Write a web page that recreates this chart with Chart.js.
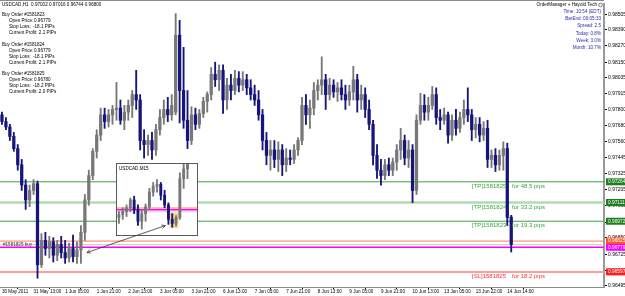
<!DOCTYPE html>
<html>
<head>
<meta charset="utf-8">
<script src="https://cdn.jsdelivr.net/npm/chart.js@4.4.0/dist/chart.umd.min.js"></script>
<style>
  html, body { margin: 0; padding: 0; background: #fff; }
  #wrap { position: relative; width: 625px; height: 296px; overflow: hidden; }
  #main { position: absolute; left: 0; top: 0; }
  #inset { position: absolute; left: 116px; top: 163px; width: 80px; height: 71px; border: 1px solid #5a5a5a; background: #fff; }
  #over { position: absolute; left: 0; top: 0; pointer-events: none; }
</style>
</head>
<body>
<div id="wrap">
  <canvas id="main" width="625" height="296"></canvas>
  <div id="inset"><canvas id="mini" width="80" height="71"></canvas></div>
  <canvas id="over" width="625" height="296"></canvas>
</div>
<script>
// USDCAD H1 candles (2h steps)
const xTickLabels = ['30 May 2011', '31 May 13:00', '1 Jun 05:00', '1 Jun 21:00', '2 Jun 13:00', '3 Jun 05:00',
  '3 Jun 21:00', '6 Jun 13:00', '7 Jun 05:00', '7 Jun 21:00', '8 Jun 13:00', '9 Jun 05:00', '9 Jun 21:00',
  '10 Jun 13:00', '13 Jun 05:00', '13 Jun 22:00', '14 Jun 14:00'];

const opens = [0.9776, 0.9771, 0.9767, 0.9760, 0.9751, 0.9739, 0.9724, 0.9713, 0.9720, 0.9725,
  0.9665, 0.9683, 0.9677, 0.9682, 0.9672, 0.9680, 0.9674, 0.9670, 0.9677, 0.9671,
  0.9676, 0.9689, 0.9713, 0.9731, 0.9749, 0.9761, 0.9776, 0.9771, 0.9776, 0.9780,
  0.9781, 0.9772, 0.9778, 0.9783, 0.9791, 0.9787, 0.9757, 0.9754, 0.9757, 0.9750,
  0.9765, 0.9774, 0.9780, 0.9776, 0.9778, 0.9835, 0.9794, 0.9772, 0.9757, 0.9776,
  0.9769, 0.9777, 0.9786, 0.9791, 0.9806, 0.9802, 0.9809, 0.9787, 0.9798, 0.9794,
  0.9803, 0.9798, 0.9802, 0.9796, 0.9791, 0.9787, 0.9776, 0.9757, 0.9746, 0.9750,
  0.9743, 0.9750, 0.9739, 0.9744, 0.9743, 0.9750, 0.9757, 0.9783, 0.9776, 0.9781,
  0.9794, 0.9798, 0.9802, 0.9791, 0.9798, 0.9793, 0.9796, 0.9791, 0.9787, 0.9793,
  0.9802, 0.9787, 0.9791, 0.9780, 0.9769, 0.9746, 0.9735, 0.9731, 0.9739, 0.9735,
  0.9741, 0.9750, 0.9757, 0.9744, 0.9750, 0.9720, 0.9772, 0.9783, 0.9778, 0.9783,
  0.9791, 0.9774, 0.9772, 0.9776, 0.9761, 0.9772, 0.9766, 0.9774, 0.9780, 0.9776,
  0.9765, 0.9769, 0.9761, 0.9766, 0.9743, 0.9746, 0.9739, 0.9746, 0.9751, 0.97002];

const highs = [0.9778, 0.9774, 0.9769, 0.9763, 0.9754, 0.9743, 0.9728, 0.9724, 0.9728, 0.9727,
  0.9688, 0.9689, 0.9686, 0.9685, 0.9683, 0.9686, 0.9683, 0.9681, 0.9687, 0.9682,
  0.9694, 0.9717, 0.9735, 0.9751, 0.9765, 0.9781, 0.9781, 0.9780, 0.9783, 0.9800,
  0.9787, 0.9783, 0.9787, 0.9794, 0.9809, 0.9791, 0.9765, 0.9761, 0.9763, 0.9769,
  0.9780, 0.9787, 0.9789, 0.9791, 0.9851, 0.9846, 0.9826, 0.9794, 0.9782, 0.9781,
  0.9780, 0.9789, 0.9793, 0.9811, 0.9815, 0.9813, 0.9813, 0.9803, 0.9806, 0.9809,
  0.9808, 0.9808, 0.9806, 0.9802, 0.9798, 0.9794, 0.9780, 0.9763, 0.9757, 0.9757,
  0.9756, 0.9754, 0.9751, 0.9750, 0.9754, 0.9759, 0.9789, 0.9791, 0.9787, 0.9800,
  0.9802, 0.9819, 0.9806, 0.9803, 0.9802, 0.9800, 0.9802, 0.9798, 0.9798, 0.9812,
  0.9806, 0.9798, 0.9796, 0.9787, 0.9772, 0.9754, 0.9743, 0.9743, 0.9744, 0.9744,
  0.9754, 0.9766, 0.9761, 0.9757, 0.9754, 0.9776, 0.9792, 0.9791, 0.9789, 0.9797,
  0.9796, 0.9780, 0.9781, 0.9778, 0.9776, 0.9780, 0.9778, 0.9787, 0.9796, 0.9780,
  0.9774, 0.9774, 0.9771, 0.9772, 0.9750, 0.9751, 0.9750, 0.9756, 0.9755, 0.97016];

const lows = [0.9769, 0.9765, 0.9757, 0.9749, 0.9735, 0.9720, 0.9706, 0.9708, 0.9717, 0.9655,
  0.9663, 0.9672, 0.9670, 0.9667, 0.9668, 0.9670, 0.9666, 0.9667, 0.9667, 0.9666,
  0.9666, 0.9683, 0.9709, 0.9728, 0.9744, 0.9757, 0.9766, 0.9767, 0.9769, 0.9772,
  0.9769, 0.9765, 0.9772, 0.9774, 0.9780, 0.9750, 0.9744, 0.9746, 0.9743, 0.9746,
  0.9761, 0.9769, 0.9771, 0.9772, 0.9776, 0.9770, 0.9766, 0.9751, 0.9754, 0.9765,
  0.9766, 0.9774, 0.9778, 0.9787, 0.9797, 0.9794, 0.9777, 0.9780, 0.9787, 0.9791,
  0.9793, 0.9794, 0.9791, 0.9787, 0.9783, 0.9772, 0.9750, 0.9739, 0.9735, 0.9737,
  0.9734, 0.9731, 0.9734, 0.9739, 0.9740, 0.9746, 0.9754, 0.9769, 0.9766, 0.9776,
  0.9787, 0.9791, 0.9780, 0.9787, 0.9789, 0.9786, 0.9787, 0.9780, 0.9783, 0.9787,
  0.9778, 0.9780, 0.9774, 0.9765, 0.9739, 0.9729, 0.9724, 0.9728, 0.9731, 0.9731,
  0.9735, 0.9743, 0.9739, 0.9737, 0.9711, 0.9717, 0.9769, 0.9772, 0.9772, 0.9780,
  0.9769, 0.9765, 0.9769, 0.9755, 0.9757, 0.9761, 0.9763, 0.9769, 0.9771, 0.9757,
  0.9759, 0.9756, 0.9757, 0.9737, 0.9737, 0.9734, 0.9735, 0.9735, 0.9694, 0.96744];

const closes = [0.9771, 0.9767, 0.9760, 0.9751, 0.9739, 0.9724, 0.9713, 0.9720, 0.9725, 0.9665,
  0.9683, 0.9677, 0.9682, 0.9672, 0.9680, 0.9674, 0.9670, 0.9677, 0.9671, 0.9676,
  0.9689, 0.9713, 0.9731, 0.9749, 0.9761, 0.9776, 0.9771, 0.9776, 0.9780, 0.9781,
  0.9772, 0.9778, 0.9783, 0.9791, 0.9787, 0.9757, 0.9754, 0.9757, 0.9750, 0.9765,
  0.9774, 0.9780, 0.9776, 0.9783, 0.9835, 0.9794, 0.9772, 0.9757, 0.9776, 0.9769,
  0.9777, 0.9786, 0.9791, 0.9806, 0.9802, 0.9809, 0.9787, 0.9798, 0.9794, 0.9803,
  0.9798, 0.9802, 0.9796, 0.9791, 0.9787, 0.9776, 0.9757, 0.9746, 0.9750, 0.9743,
  0.9750, 0.9739, 0.9744, 0.9743, 0.9750, 0.9757, 0.9783, 0.9776, 0.9781, 0.9794,
  0.9798, 0.9802, 0.9791, 0.9798, 0.9793, 0.9796, 0.9791, 0.9787, 0.9793, 0.9802,
  0.9787, 0.9791, 0.9780, 0.9769, 0.9746, 0.9735, 0.9731, 0.9739, 0.9735, 0.9741,
  0.9750, 0.9757, 0.9744, 0.9750, 0.9720, 0.9772, 0.9783, 0.9778, 0.9783, 0.9791,
  0.9774, 0.9772, 0.9776, 0.9761, 0.9772, 0.9766, 0.9774, 0.9780, 0.9776, 0.9765,
  0.9769, 0.9761, 0.9766, 0.9743, 0.9746, 0.9739, 0.9746, 0.9751, 0.9700, 0.96800];

const yTickValues = [0.98505, 0.98390, 0.98270, 0.98150, 0.98035, 0.97915, 0.97800, 0.97680, 0.97560,
  0.97445, 0.97325, 0.97205, 0.97085, 0.96965, 0.96850, 0.96725, 0.96605, 0.96495];

// order levels: 3 take profits, ask, bid, open price, stop loss
const levelPrices = [0.97264, 0.97111, 0.96972, 0.96825, 0.96800, 0.96779, 0.96597];
const levelTags = ['[TP]1581825', '[TP]1581824', '[TP]1581823', '', '', '', '[SL]1581825'];
const levelPips = ['48.5', '33.2', '19.3', '', '', '', '18.2'];

// M15 inset candles
const miniOpens = [0.96746, 0.96758, 0.96771, 0.96787, 0.96820, 0.96779, 0.96730, 0.96762, 0.96791, 0.96853,
  0.96877, 0.96886, 0.96840, 0.96799, 0.96738, 0.96721, 0.96746, 0.96910, 0.96951];
const miniHighs = [0.96771, 0.96787, 0.96799, 0.96828, 0.96836, 0.96799, 0.96779, 0.96803, 0.96869, 0.96894,
  0.96906, 0.96894, 0.96861, 0.96808, 0.96762, 0.96754, 0.96935, 0.96984, 0.97025];
const miniLows = [0.96721, 0.96738, 0.96750, 0.96771, 0.96762, 0.96713, 0.96697, 0.96730, 0.96779, 0.96836,
  0.96853, 0.96820, 0.96787, 0.96717, 0.96705, 0.96709, 0.96738, 0.96869, 0.96910];
const miniCloses = [0.96758, 0.96771, 0.96787, 0.96820, 0.96779, 0.96730, 0.96762, 0.96791, 0.96853, 0.96877,
  0.96886, 0.96840, 0.96799, 0.96738, 0.96721, 0.96746, 0.96910, 0.96951, 0.96993];
const miniLevels = [0.96786, 0.96779, 0.96770];

const orders = [
  { id: '1581823', open: '0.96779', sl: '-18.1', profit: '2.1' },
  { id: '1581824', open: '0.96779', sl: '-18.1', profit: '2.1' },
  { id: '1581825', open: '0.96780', sl: '-18.2', profit: '2.0' }
];
const statusLines = ['Time: 10:54 (EDT)', 'BarEnd: 00:05:33', 'Spread: 2.5', 'Today: 0.8%', 'Week: 3.0%', 'Month: 10.7%'];

const BULL = '#777777';
const BEAR = '#15157a';
const FONT = '"Liberation Sans", Arial, sans-serif';
const SLOTS = 153;

const levelStyles = [
  { line: '#3f9f3f', width: 1, box: '#1f7f1f', text: '#38a838' },
  { line: '#b3dbb3', width: 2.5, box: '#1f7f1f', text: '#38a838' },
  { line: '#3f9f3f', width: 1, box: '#1f7f1f', text: '#38a838' },
  { line: '#ff7f50', width: 1, box: '#ff5a1f' },
  { line: '#d0d0d0', width: 1 },
  { line: '#ff00ff', width: 1.5, box: '#ff00ff' },
  { line: '#ff9c9c', width: 2, box: '#ff1c1c', text: '#ff3030' }
];

const slotLabels = Array.from({ length: SLOTS }, (_, i) =>
  (i % 8 === 0 && xTickLabels[i / 8]) ? xTickLabels[i / 8] : '');

function candleSets(o, h, l, c, bodyW) {
  const colors = o.map((v, i) => (c[i] >= v ? BULL : BEAR));
  return [
    { data: h.map((v, i) => [l[i], v]), backgroundColor: colors, barThickness: 1.2, grouped: false, order: 2 },
    { data: o.map((v, i) => [v, c[i]]), backgroundColor: colors, barThickness: bodyW, grouped: false, minBarLength: 1, order: 1 }
  ];
}

function txt(ctx, s, x, y, size, color, align) {
  ctx.font = size + 'px ' + FONT;
  ctx.fillStyle = color;
  ctx.textAlign = align || 'left';
  ctx.textBaseline = 'middle';
  ctx.fillText(s, x, y);
}

const mainPlugin = {
  id: 'mt4',
  beforeDatasetsDraw(chart) {
    const { ctx, chartArea: a, scales: { y } } = chart;
    ctx.save();
    levelPrices.forEach((p, i) => {
      const st = levelStyles[i];
      const py = y.getPixelForValue(p);
      ctx.strokeStyle = st.line;
      ctx.lineWidth = st.width;
      ctx.beginPath();
      ctx.moveTo(a.left, py);
      ctx.lineTo(a.right, py);
      ctx.stroke();
    });
    ctx.restore();
  },
  afterDatasetsDraw(chart) {
    const { ctx, scales: { y } } = chart;
    ctx.save();
    // TP / SL captions
    levelPrices.forEach((p, i) => {
      if (!levelTags[i]) return;
      const py = y.getPixelForValue(p) + 4.5;
      txt(ctx, levelTags[i], 472, py, 6, levelStyles[i].text);
      txt(ctx, 'for ' + levelPips[i] + ' pips', 512, py, 6, levelStyles[i].text);
    });
    // chart header + order comments
    txt(ctx, 'USDCAD,H1  0.97002 0.97016 0.96744 0.96800', 2, 5, 4.6, '#000');
    orders.forEach((o, k) => {
      const y0 = 15 + k * 29.4;
      txt(ctx, 'Buy Order #' + o.id, 2, y0, 4.6, '#000');
      txt(ctx, 'Open Price:', 9, y0 + 6, 4.6, '#000');
      txt(ctx, o.open, 34, y0 + 6, 4.6, '#000');
      txt(ctx, 'Stop Loss:', 9, y0 + 12, 4.6, '#000');
      txt(ctx, o.sl + ' PIPs', 33, y0 + 12, 4.6, '#000');
      txt(ctx, 'Current Profit: ' + o.profit + ' PIPs', 9, y0 + 18, 4.6, '#000');
    });
    txt(ctx, '#1581825 buy', 3, y.getPixelForValue(levelPrices[5]) - 3, 4.6, '#333');
    // status panel
    txt(ctx, 'OrderManager + Hayold Tech', 597, 5, 4.6, '#000', 'right');
    ctx.strokeStyle = '#555';
    ctx.lineWidth = 0.8;
    ctx.beginPath();
    ctx.arc(600.5, 5, 1.8, 0, Math.PI * 2);
    ctx.stroke();
    statusLines.forEach((s, k) => txt(ctx, s, 601, 11.3 + k * 7.35, 4.6, '#2a2aa6', 'right'));
    ctx.restore();
  },
  afterDraw(chart) {
    const { ctx, chartArea: a, scales: { y } } = chart;
    ctx.save();
    ctx.fillStyle = '#8a8a8a';
    ctx.fillRect(0, 0, a.right, 1);
    // price boxes on the axis
    levelPrices.forEach((p, i) => {
      const st = levelStyles[i];
      if (!st.box) return;
      const py = y.getPixelForValue(p);
      ctx.fillStyle = st.box;
      ctx.fillRect(a.right + 2, py - 3.5, 21, 7);
      txt(ctx, p.toFixed(5), a.right + 4, py, 4.8, '#fff');
    });
    ctx.restore();
  }
};

const mainChart = new Chart(document.getElementById('main'), {
  type: 'bar',
  data: { labels: slotLabels, datasets: candleSets(opens, highs, lows, closes, 2.6) },
  options: {
    responsive: false,
    animation: false,
    events: [],
    layout: { padding: { top: 4, left: 0, right: 0, bottom: 0 } },
    plugins: { legend: { display: false }, tooltip: { enabled: false } },
    scales: {
      x: {
        type: 'category',
        offset: true,
        afterFit(s) { s.height = 9; },
        afterBuildTicks(s) { s.ticks = s.ticks.filter(t => slotLabels[t.value]); },
        border: { display: true, color: '#8a8a8a', width: 1 },
        grid: { display: true, drawOnChartArea: false, drawTicks: true, tickLength: 2, color: '#000' },
        ticks: { autoSkip: false, maxRotation: 0, align: 'start', padding: 0, color: '#000', font: { family: FONT, size: 4.6 } }
      },
      y: {
        position: 'right',
        min: 0.96485,
        max: 0.98581,
        afterFit(s) { s.width = 21; },
        afterBuildTicks(s) { s.ticks = yTickValues.map(v => ({ value: v })); },
        border: { display: true, color: '#9a9a9a', width: 2 },
        grid: { display: true, drawOnChartArea: false, drawTicks: true, tickLength: 3, color: '#000' },
        ticks: { padding: 1, color: '#000', font: { family: FONT, size: 5 }, callback: v => Number(v).toFixed(5) }
      }
    }
  },
  plugins: [mainPlugin]
});

const miniPlugin = {
  id: 'mini',
  beforeDatasetsDraw(chart) {
    const { ctx, chartArea: a, scales: { x, y } } = chart;
    ctx.save();
    // highlighted candles
    const hx0 = x.getPixelForValue(14) - 2.5, hx1 = x.getPixelForValue(15) + 2.5;
    const hy0 = y.getPixelForValue(Math.max(miniHighs[14], miniHighs[15])) - 1;
    const hy1 = y.getPixelForValue(Math.min(miniLows[14], miniLows[15])) + 1;
    ctx.fillStyle = 'rgba(245, 214, 110, 0.85)';
    ctx.fillRect(hx0, hy0, hx1 - hx0, hy1 - hy0);
    const cols = ['#ff7f50', '#ff00ff', '#d0d0d0'];
    miniLevels.forEach((p, i) => {
      const py = y.getPixelForValue(p);
      ctx.strokeStyle = cols[i];
      ctx.lineWidth = i === 1 ? 1.5 : 1;
      ctx.beginPath();
      ctx.moveTo(a.left, py);
      ctx.lineTo(a.right, py);
      ctx.stroke();
    });
    ctx.restore();
  },
  afterDraw(chart) {
    txt(chart.ctx, 'USDCAD,M15', 2, 4.5, 4.6, '#000');
  }
};

new Chart(document.getElementById('mini'), {
  type: 'bar',
  data: { labels: Array.from({ length: 21 }, (_, i) => i), datasets: candleSets(miniOpens, miniHighs, miniLows, miniCloses, 2.2) },
  options: {
    responsive: false,
    animation: false,
    events: [],
    layout: { padding: 0 },
    plugins: { legend: { display: false }, tooltip: { enabled: false } },
    scales: {
      x: { display: false, offset: true },
      y: { display: false, min: 0.96672, max: 0.96972 }
    }
  },
  plugins: [miniPlugin]
});

// arrow from the order entry to the M15 inset, in main chart coordinates
const arrowFrom = [21.5, 0.9674];
const arrowTo = [41.4, 0.9694];
(function drawArrow() {
  const ov = document.getElementById('over').getContext('2d');
  const xs = mainChart.scales.x, ys = mainChart.scales.y;
  const x1 = xs.getPixelForValue(arrowFrom[0]), y1 = ys.getPixelForValue(arrowFrom[1]);
  const x2 = xs.getPixelForValue(arrowTo[0]), y2 = ys.getPixelForValue(arrowTo[1]);
  const ang = Math.atan2(y2 - y1, x2 - x1);
  ov.strokeStyle = '#333';
  ov.lineWidth = 0.8;
  ov.beginPath();
  ov.moveTo(x1, y1);
  ov.lineTo(x2, y2);
  [[x2, y2, ang], [x1, y1, ang + Math.PI]].forEach(([px, py, a]) => {
    ov.moveTo(px, py);
    ov.lineTo(px - 4 * Math.cos(a - 0.45), py - 4 * Math.sin(a - 0.45));
    ov.moveTo(px, py);
    ov.lineTo(px - 4 * Math.cos(a + 0.45), py - 4 * Math.sin(a + 0.45));
  });
  ov.stroke();
})();
</script>
</body>
</html>
